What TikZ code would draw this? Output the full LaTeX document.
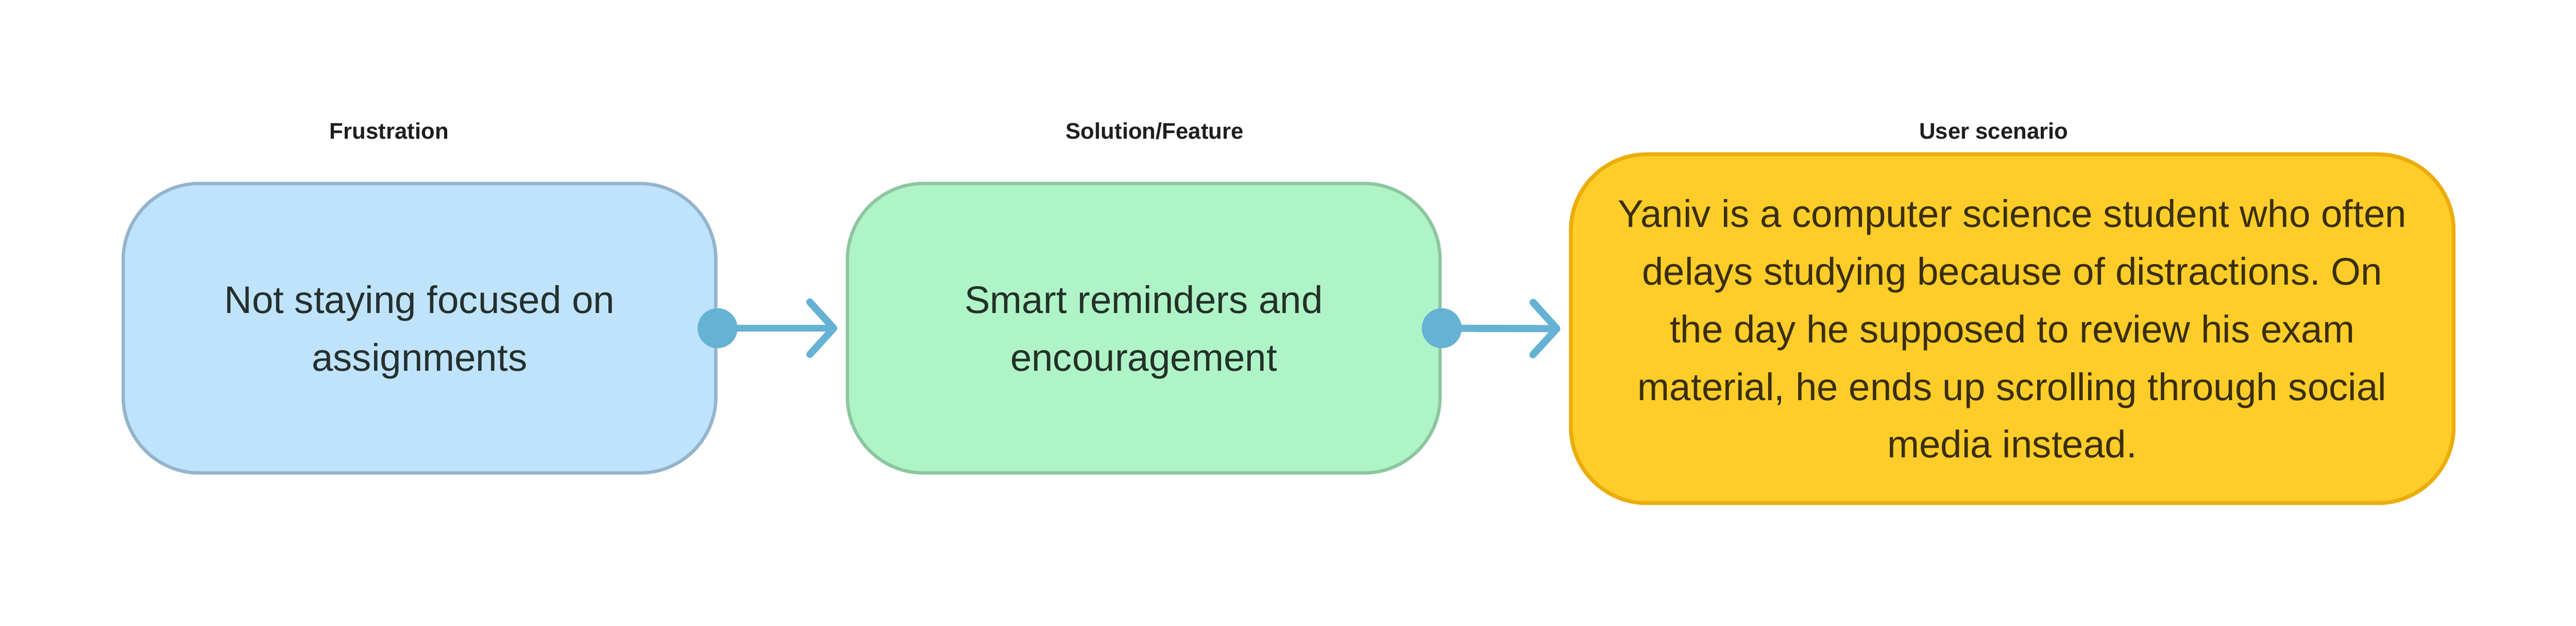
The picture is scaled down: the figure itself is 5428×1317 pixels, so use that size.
\documentclass[tikz,border=0pt]{standalone}
\usepackage{fontspec}
\setmainfont{Liberation Sans}
\usetikzlibrary{arrows.meta}
\frenchspacing
\definecolor{blueFill}{HTML}{BFE3FB}
\definecolor{blueLine}{HTML}{94B4CC}
\definecolor{blueText}{HTML}{25302E}
\definecolor{greenFill}{HTML}{AFF4C6}
\definecolor{greenLine}{HTML}{8DC6A0}
\definecolor{greenText}{HTML}{233129}
\definecolor{yellowFill}{HTML}{FFCD29}
\definecolor{yellowLine}{HTML}{EBAD0A}
\definecolor{yellowText}{HTML}{3A2E0B}
\definecolor{headText}{HTML}{1E1E1E}
\definecolor{linkBlue}{HTML}{66B2D4}

\begin{document}
\begin{tikzpicture}[x=0.01cm, y=-0.01cm,
	card/.style={draw, rounded corners=1.6cm, line width=2pt,
		align=center, minimum width=12.48cm, minimum height=6.09cm,
		text depth=0pt, font=\fontsize{23}{34.5}\selectfont},
	head/.style={anchor=base, text=headText,
		font=\fontsize{13.5}{16}\selectfont\bfseries},
	link/.style={draw=linkBlue, line width=4.3pt, shorten >=0.18cm,
		-{Straight Barb[length=0.5cm, width=1.1cm, round]}}]
	\useasboundingbox (0,0) rectangle (5428,1317);
	\node [card, fill=blueFill, draw=blueLine, text=blueText] (1) at (884,691)
		{Not staying focused on\\assignments};
	\node [card, fill=greenFill, draw=greenLine, text=greenText] (2) at (2410,691)
		{Smart reminders and\\encouragement};
	\node [card, fill=yellowFill, draw=yellowLine, text=yellowText,
		line width=2.3pt, minimum width=18.59cm, minimum height=7.34cm] (3) at (4240,692)
		{Yaniv is a computer science student who often\\
		delays studying because of distractions. On\\
		the day he supposed to review his exam\\
		material, he ends up scrolling through social\\
		media instead.};
	\node [head] (h1) at (820,293) {Frustration};
	\node [head] (h2) at (2433,293) {Solution/Feature};
	\node [head] (h3) at (4201,293) {User scenario};
	\draw [link] (1.east) to (2.west);
	\draw [link] (2.east) to (3.west);
	\fill [linkBlue] (1.east) circle (0.42cm);
	\fill [linkBlue] (2.east) circle (0.42cm);
\end{tikzpicture}
\end{document}
